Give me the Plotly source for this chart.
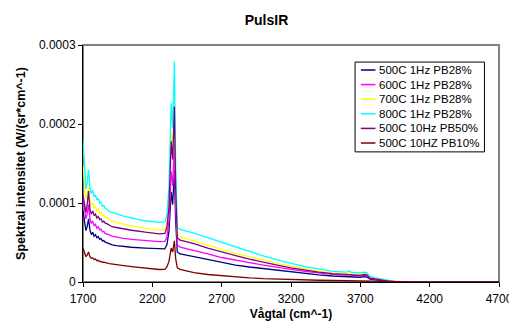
import plotly.graph_objects as go

# Wavenumber (cm^-1)
wavenumber = [1700, 1710, 1721, 1730, 1740, 1750, 1760, 1770, 1780, 1790, 1800, 1810, 1820, 1830,
              1840, 1850, 1860, 1875, 1890, 1910, 1940, 1980, 2050, 2150, 2250, 2290, 2305, 2320,
              2336, 2347, 2359, 2368, 2380, 2400, 2500, 2600, 2700, 2800, 2900, 3000, 3100, 3200,
              3300, 3400, 3500, 3600, 3620, 3640, 3700, 3730, 3745, 3770, 3800, 3850, 3900, 3950,
              3990, 4100, 4300, 4500, 4700]

# Spectral intensity, in units of 1e-4 W/(sr*cm^-1)
s500_1hz = [0.90, 0.75, 0.65, 0.70, 0.80, 0.66, 0.60, 0.63, 0.58, 0.60, 0.56, 0.575, 0.54, 0.55,
            0.52, 0.525, 0.505, 0.495, 0.48, 0.47, 0.46, 0.45, 0.44, 0.43, 0.42, 0.42, 0.47, 0.64,
            1.14, 0.98, 1.42, 0.78, 0.38, 0.355, 0.32, 0.285, 0.245, 0.215, 0.19, 0.17, 0.145, 0.125,
            0.105, 0.09, 0.076, 0.068, 0.073, 0.064, 0.06, 0.068, 0.063, 0.035, 0.027, 0.017, 0.008, 0.002,
            0, 0, 0, 0, 0]
s600_1hz = [1.05, 0.92, 0.80, 0.86, 0.98, 0.80, 0.74, 0.77, 0.71, 0.73, 0.68, 0.70, 0.66, 0.67,
            0.635, 0.64, 0.615, 0.605, 0.59, 0.58, 0.57, 0.555, 0.54, 0.525, 0.51, 0.515, 0.57, 0.78,
            1.40, 1.22, 1.74, 0.95, 0.47, 0.44, 0.40, 0.355, 0.31, 0.275, 0.245, 0.215, 0.185, 0.16,
            0.135, 0.115, 0.097, 0.088, 0.095, 0.083, 0.078, 0.088, 0.082, 0.045, 0.035, 0.022, 0.01, 0.002,
            0, 0, 0, 0, 0]
s700_1hz = [1.48, 1.25, 1.05, 1.10, 1.19, 1.02, 0.97, 1.00, 0.94, 0.95, 0.90, 0.92, 0.87, 0.88,
            0.84, 0.85, 0.82, 0.81, 0.785, 0.77, 0.755, 0.735, 0.71, 0.68, 0.66, 0.665, 0.74, 1.02,
            1.88, 1.65, 2.33, 1.25, 0.60, 0.57, 0.52, 0.465, 0.41, 0.36, 0.32, 0.275, 0.235, 0.20,
            0.165, 0.14, 0.115, 0.105, 0.115, 0.10, 0.095, 0.105, 0.10, 0.055, 0.045, 0.03, 0.015, 0.004,
            0, 0, 0, 0, 0]
s800_1hz = [1.80, 1.45, 1.18, 1.25, 1.42, 1.20, 1.12, 1.16, 1.08, 1.10, 1.04, 1.06, 1.00, 1.01,
            0.96, 0.97, 0.93, 0.92, 0.89, 0.88, 0.86, 0.84, 0.81, 0.775, 0.755, 0.76, 0.85, 1.20,
            2.26, 1.95, 2.79, 1.50, 0.69, 0.665, 0.62, 0.56, 0.50, 0.44, 0.39, 0.33, 0.28, 0.235,
            0.195, 0.165, 0.135, 0.125, 0.14, 0.12, 0.115, 0.125, 0.12, 0.07, 0.055, 0.04, 0.02, 0.005,
            0, 0, 0, 0, 0]
s500_10hz_pb50 = [1.10, 1.00, 0.88, 0.98, 1.15, 0.92, 0.86, 0.90, 0.84, 0.86, 0.81, 0.83, 0.79, 0.80,
                  0.76, 0.77, 0.745, 0.735, 0.715, 0.70, 0.69, 0.675, 0.655, 0.63, 0.61, 0.615, 0.69, 0.95,
                  1.78, 1.55, 2.22, 1.20, 0.56, 0.53, 0.485, 0.43, 0.38, 0.335, 0.29, 0.25, 0.215, 0.18,
                  0.15, 0.125, 0.105, 0.095, 0.10, 0.09, 0.085, 0.095, 0.09, 0.05, 0.04, 0.027, 0.012, 0.003,
                  0, 0, 0, 0, 0]
s500_10hz_pb10 = [0.43, 0.36, 0.32, 0.34, 0.38, 0.32, 0.30, 0.305, 0.285, 0.29, 0.27, 0.275, 0.26, 0.262,
                  0.25, 0.252, 0.243, 0.238, 0.232, 0.226, 0.218, 0.21, 0.195, 0.175, 0.158, 0.16, 0.19, 0.26,
                  0.43, 0.38, 0.52, 0.30, 0.18, 0.16, 0.12, 0.095, 0.078, 0.065, 0.053, 0.043, 0.036, 0.03,
                  0.025, 0.022, 0.019, 0.016, 0.017, 0.015, 0.013, 0.014, 0.013, 0.008, 0.006, 0.004, 0.002, 0.001,
                  0, 0, 0, 0, 0]

series_names = ["500C 1Hz PB28%", "600C 1Hz PB28%", "700C 1Hz PB28%", "800C 1Hz PB28%",
                "500C 10Hz PB50%", "500C 10HZ PB10%"]
series_values = [s500_1hz, s600_1hz, s700_1hz, s800_1hz, s500_10hz_pb50, s500_10hz_pb10]
series_colors = ["#000080", "#FF00FF", "#FFFF00", "#00FFFF", "#800080", "#800000"]

y_tickvals = [0, 0.0001, 0.0002, 0.0003]
y_ticktext = ["0", "0.0001", "0.0002", "0.0003"]
x_tickvals = [1700, 2200, 2700, 3200, 3700, 4200, 4700]

FONT = "Liberation Sans, Arial, sans-serif"

fig = go.Figure()
for name, vals, col in zip(series_names, series_values, series_colors):
    fig.add_trace(go.Scatter(
        x=wavenumber, y=[v * 1e-4 for v in vals], mode="lines", name=name,
        line=dict(color=col, width=1.3), cliponaxis=False, showlegend=False,
    ))

# Custom legend box (Excel style, compact rows)
shapes = [dict(type="rect", xref="paper", yref="paper", x0=0, x1=1, y0=0, y1=1,
               line=dict(color="#808080", width=2), layer="below"),
          dict(type="rect", xref="paper", yref="paper", x0=0.654, x1=0.965, y0=0.549, y1=0.928,
               line=dict(color="black", width=1), fillcolor="white", layer="above")]
annotations = []
row_top = 0.8945
row_step = 0.0616
for i, (name, col) in enumerate(zip(series_names, series_colors)):
    yy = row_top - i * row_step
    shapes.append(dict(type="line", xref="paper", yref="paper", x0=0.668, x1=0.703, y0=yy, y1=yy,
                       line=dict(color=col, width=1.5), layer="above"))
    annotations.append(dict(xref="paper", yref="paper", x=0.707, y=yy, xanchor="left",
                            yanchor="middle", text=name, showarrow=False,
                            font=dict(family=FONT, size=11.5, color="black")))

fig.update_layout(
    width=517, height=327,
    margin=dict(l=68, r=21, t=37, b=53),
    paper_bgcolor="white", plot_bgcolor="white",
    font=dict(family=FONT, size=12, color="black"),
    title=dict(text="<b>PulsIR</b>", x=0.5, xanchor="center", y=0.963, yanchor="middle",
               font=dict(family=FONT, size=14, color="black")),
    showlegend=False,
    shapes=shapes,
    annotations=annotations,
)
fig.update_xaxes(range=[1700, 4700], tickvals=x_tickvals, showgrid=False, zeroline=False,
                 showline=True, linecolor="black", linewidth=1, ticks="outside", ticklen=4,
                 tickcolor="black", tickfont=dict(size=12), ticklabelstandoff=2,
                 title=dict(text="<b>Vågtal (cm^-1)</b>", font=dict(size=12), standoff=4))
fig.update_yaxes(range=[0, 0.0003], tickvals=y_tickvals, ticktext=y_ticktext, showgrid=False,
                 zeroline=False, showline=True, linecolor="black", linewidth=1, ticks="outside",
                 ticklen=4, tickcolor="black", tickfont=dict(size=12),
                 title=dict(text="<b>Spektral intensitet (W/(sr*cm^-1)</b>", font=dict(size=12.5), standoff=10))

fig.write_html("out.html")
